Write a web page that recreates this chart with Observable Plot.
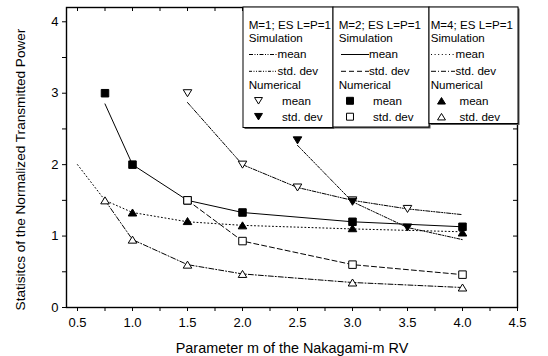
<!DOCTYPE html>
<html>
<head>
<meta charset="utf-8">
<script src="https://cdn.jsdelivr.net/npm/d3@7"></script>
<script src="https://cdn.jsdelivr.net/npm/@observablehq/plot@0.6"></script>
<style>
  html, body { margin: 0; padding: 0; background: #fff; }
  #chart { position: relative; width: 548px; height: 356px; font-family: Arial, "Liberation Sans", sans-serif; }
  #chart svg { display: block; }
  #legend { position: absolute; left: 0; top: 0; pointer-events: none; }
</style>
</head>
<body>
<div id="chart"></div>
<script>
// ---- M=1; ES L=P=1 ----
const m1SimMeanX = [1.5, 2.0, 2.5, 3.0, 3.5, 4.0];
const m1SimMean  = [2.87, 2.0, 1.68, 1.5, 1.38, 1.3];
const m1SimStdX  = [2.5, 3.0, 3.5, 4.0];
const m1SimStd   = [2.27, 1.48, 1.12, 0.95];
const m1NumMeanX = [1.5, 2.0, 2.5, 3.0, 3.5];
const m1NumMean  = [3.0, 2.0, 1.68, 1.5, 1.38];
const m1NumStdX  = [2.5, 3.0, 3.5];
const m1NumStd   = [2.34, 1.48, 1.12];

// ---- M=2; ES L=P=1 ----
const m2SimMeanX = [0.75, 1.0, 1.5, 2.0, 3.0, 4.0];
const m2SimMean  = [2.85, 2.0, 1.5, 1.33, 1.2, 1.13];
const m2SimStdX  = [1.5, 2.0, 3.0, 4.0];
const m2SimStd   = [1.5, 0.93, 0.6, 0.46];
const m2NumMeanX = [0.75, 1.0, 1.5, 2.0, 3.0, 4.0];
const m2NumMean  = [3.0, 2.0, 1.5, 1.33, 1.2, 1.13];
const m2NumStdX  = [1.5, 2.0, 3.0, 4.0];
const m2NumStd   = [1.5, 0.93, 0.6, 0.46];

// ---- M=4; ES L=P=1 ----
const m4SimMeanX = [0.5, 0.75, 1.0, 1.5, 2.0, 3.0, 4.0];
const m4SimMean  = [2.0, 1.5, 1.33, 1.2, 1.15, 1.1, 1.06];
const m4SimStdX  = [0.75, 1.0, 1.5, 2.0, 3.0, 4.0];
const m4SimStd   = [1.5, 0.95, 0.6, 0.47, 0.35, 0.28];
const m4NumMeanX = [1.0, 1.5, 2.0, 3.0, 4.0];
const m4NumMean  = [1.33, 1.21, 1.15, 1.11, 1.05];
const m4NumStdX  = [0.75, 1.0, 1.5, 2.0, 3.0, 4.0];
const m4NumStd   = [1.5, 0.95, 0.6, 0.47, 0.35, 0.28];

// ---- axes ----
const xTicks = d3.range(0.5, 4.5001, 0.25);
const yTicks = d3.range(0, 4.0001, 0.5);
const xTickLabels = ["0.5", "1.0", "1.5", "2.0", "2.5", "3.0", "3.5", "4.0", "4.5"];
const yTickLabels = ["0", "1", "2", "3", "4"];
const xLabel = "Parameter m of the Nakagami-m RV";
const yLabel = "Statisitcs of the Normalized Transmitted Power";

// ---- legend ----
const legendTitles = ["M=1; ES L=P=1", "M=2; ES L=P=1", "M=4; ES L=P=1"];

const pts = (xs, ys) => xs.map((x, i) => ({x, y: ys[i]}));

// custom marker shapes (size is the area passed by Plot)
const triDown = {
  draw(ctx, size) {
    const s = Math.sqrt(size) * 1.05;
    const h = s * 0.82;
    ctx.moveTo(-s / 2, -h / 2);
    ctx.lineTo(s / 2, -h / 2);
    ctx.lineTo(0, h / 2);
    ctx.closePath();
  }
};
const triUp = {
  draw(ctx, size) {
    const s = Math.sqrt(size) * 1.05;
    const h = s * 0.82;
    ctx.moveTo(-s / 2, h / 2);
    ctx.lineTo(s / 2, h / 2);
    ctx.lineTo(0, -h / 2);
    ctx.closePath();
  }
};
const square = {
  draw(ctx, size) {
    const s = Math.sqrt(size) * 0.92;
    ctx.rect(-s / 2, -s / 2, s, s);
  }
};

const W = 548, H = 356;
const mL = 66, mR = 31, mT = 7, mB = 49;
const plotW = W - mL - mR, plotH = H - mT - mB;
const R = 4.6;
const font = 'Arial, "Liberation Sans", sans-serif';

const lineOpts = (dash) => ({x: "x", y: "y", stroke: "black", strokeWidth: 1, strokeDasharray: dash});
const dash = {
  m1mean: "4,1.5,1,1.5,1,1.5",
  m1std: "3,1.5,1,1.5,1,1.5",
  m2mean: null,
  m2std: "5,3",
  m4mean: "1,2.6",
  m4std: "5,2,1,2"
};

const xLabelOf = new Map(xTicks.filter((d, i) => i % 2 === 0).map((d, i) => [d, xTickLabels[i]]));
const yLabelOf = new Map(yTicks.filter((d, i) => i % 2 === 0).map((d, i) => [d, yTickLabels[i]]));

const chart = Plot.plot({
  width: W,
  height: H,
  marginLeft: mL,
  marginRight: mR,
  marginTop: mT,
  marginBottom: mB,
  style: {fontFamily: font, fontSize: "13px", color: "black", background: "white", overflow: "visible"},
  x: {domain: [0.4, 4.5], axis: null},
  y: {domain: [0, 4.2], axis: null},
  marks: [
    // simulation curves
    Plot.line(pts(m1SimMeanX, m1SimMean), lineOpts(dash.m1mean)),
    Plot.line(pts(m1SimStdX, m1SimStd), lineOpts(dash.m1std)),
    Plot.line(pts(m2SimMeanX, m2SimMean), lineOpts(dash.m2mean)),
    Plot.line(pts(m2SimStdX, m2SimStd), lineOpts(dash.m2std)),
    Plot.line(pts(m4SimMeanX, m4SimMean), lineOpts(dash.m4mean)),
    Plot.line(pts(m4SimStdX, m4SimStd), lineOpts(dash.m4std)),
    // numerical results
    Plot.dot(pts(m1NumMeanX, m1NumMean), {x: "x", y: "y", r: R, symbol: triDown, fill: "white", stroke: "black", strokeWidth: 1}),
    Plot.dot(pts(m1NumStdX, m1NumStd), {x: "x", y: "y", r: R, symbol: triDown, fill: "black", stroke: "black", strokeWidth: 1}),
    Plot.dot(pts(m2NumMeanX, m2NumMean), {x: "x", y: "y", r: R, symbol: square, fill: "black", stroke: "black", strokeWidth: 1}),
    Plot.dot(pts(m2NumStdX, m2NumStd), {x: "x", y: "y", r: R, symbol: square, fill: "white", stroke: "black", strokeWidth: 1}),
    Plot.dot(pts(m4NumMeanX, m4NumMean), {x: "x", y: "y", r: R, symbol: triUp, fill: "black", stroke: "black", strokeWidth: 1}),
    Plot.dot(pts(m4NumStdX, m4NumStd), {x: "x", y: "y", r: R, symbol: triUp, fill: "white", stroke: "black", strokeWidth: 1}),
    // axes: outward ticks on bottom/left, inward ticks on top/right
    Plot.axisX({
      anchor: "bottom", ticks: xTicks, tickSize: 4, tickPadding: 6,
      tickFormat: d => xLabelOf.get(d) ?? "", fontSize: 13,
      label: null
    }),
    Plot.axisY({
      anchor: "left", ticks: yTicks, tickSize: 4, tickPadding: 4,
      tickFormat: d => yLabelOf.get(d) ?? "", fontSize: 13,
      label: null
    }),
    Plot.tickX(xTicks, {x: d => d, stroke: "black", insetBottom: plotH - 4}),
    Plot.tickY(yTicks, {y: d => d, stroke: "black", insetLeft: plotW - 4}),
    Plot.frame({stroke: "black", strokeWidth: 1.4}),
    // axis titles
    Plot.text([xLabel], {frameAnchor: "bottom", dy: 45, text: d => d, fontSize: 14.4, fill: "black"}),
    Plot.text([yLabel], {frameAnchor: "left", textAnchor: "middle", dx: -46, dy: 12, rotate: -90, text: d => d, fontSize: 13.6, fill: "black"})
  ]
});

document.getElementById("chart").appendChild(chart);

// ---- legend boxes drawn on top of the plot ----
const legend = d3.select("#chart").append("svg")
  .attr("id", "legend")
  .attr("width", W).attr("height", H)
  .style("font-family", font);

const boxes = [
  {x0: 243, x1: 333, bottom: 127.5, lineX: [249, 277], textX: 277.5, markX: 258.5, mtextX: 278,
   meanDash: dash.m1mean, stdDash: dash.m1std, meanSym: [triDown, "white"], stdSym: [triDown, "black"]},
  {x0: 333, x1: 429, bottom: 127, lineX: [341, 369], textX: 369, markX: 350, mtextX: 369,
   meanDash: dash.m2mean, stdDash: dash.m2std, meanSym: [square, "black"], stdSym: [square, "white"]},
  {x0: 429, x1: 518, bottom: 123.5, lineX: [431, 455], textX: 455.5, markX: 441.5, mtextX: 455.5,
   meanDash: dash.m4mean, stdDash: dash.m4std, meanSym: [triUp, "black"], stdSym: [triUp, "white"]}
];
const rowY = [24.8, 37.6, 54, 70.8, 85, 100.8, 116.7];
const fs = 11.6;

boxes.forEach((b, i) => {
  const g = legend.append("g");
  // shadow + box
  g.append("rect").attr("x", b.x0 + 1.5).attr("y", 8.5).attr("width", b.x1 - b.x0).attr("height", b.bottom - 7)
    .attr("fill", "#555");
  g.append("rect").attr("x", b.x0).attr("y", 7).attr("width", b.x1 - b.x0).attr("height", b.bottom - 7)
    .attr("fill", "white").attr("stroke", "black").attr("stroke-width", 1);
  const tx = b.x0 + (i === 2 ? 1.7 : 5.7);
  const t = (x, y, s) => g.append("text").attr("x", x).attr("y", y).attr("dy", "0.35em")
    .attr("font-size", fs).attr("fill", "black").text(s);
  t(tx, rowY[0], legendTitles[i]);
  t(tx, rowY[1], "Simulation");
  g.append("line").attr("x1", b.lineX[0]).attr("x2", b.lineX[1]).attr("y1", rowY[2] + 0.5).attr("y2", rowY[2] + 0.5)
    .attr("stroke", "black").attr("stroke-dasharray", b.meanDash);
  t(b.textX, rowY[2], "mean");
  g.append("line").attr("x1", b.lineX[0]).attr("x2", b.lineX[1]).attr("y1", rowY[3] + 0.5).attr("y2", rowY[3] + 0.5)
    .attr("stroke", "black").attr("stroke-dasharray", b.stdDash);
  t(b.textX, rowY[3], "std. dev");
  t(tx, rowY[4], "Numerical");
  const sym = (spec, y) => {
    const p = d3.path();
    spec[0].draw(p, 15.5 * 15.5 / 4 * 0.95);
    g.append("path").attr("d", p.toString()).attr("transform", `translate(${b.markX},${y})`)
      .attr("fill", spec[1]).attr("stroke", "black");
  };
  sym(b.meanSym, rowY[5]);
  t(b.mtextX + 4, rowY[5], "mean");
  sym(b.stdSym, rowY[6]);
  t(b.mtextX + 4, rowY[6], "std. dev");
});
</script>
</body>
</html>
